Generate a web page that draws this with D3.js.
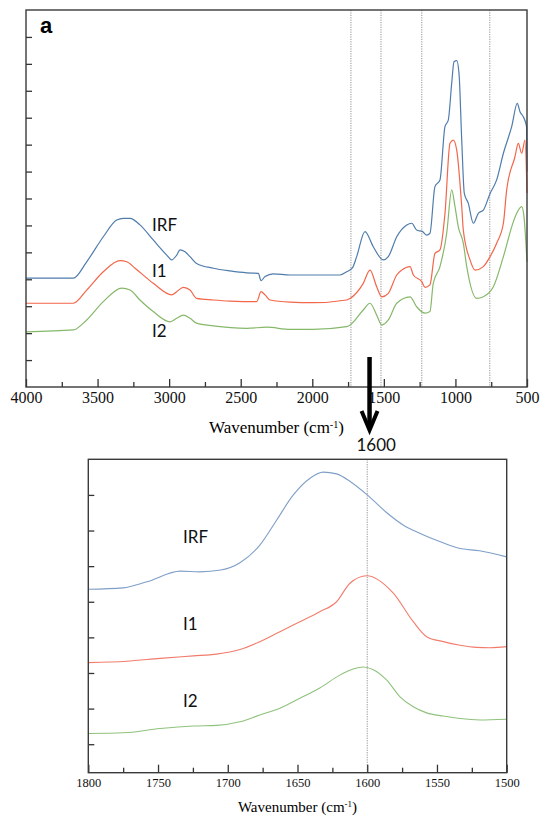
<!DOCTYPE html>
<html>
<head>
  <meta charset="utf-8">
  <script src="https://d3js.org/d3.v7.min.js"></script>
  <style>
  body { margin: 0; background: #fff; }
  .frame { fill: none; stroke: #3a3a3a; stroke-width: 1.4; }
  .tick line { stroke: #333; stroke-width: 1.3; }
  .tick text { font-family: "Liberation Serif", serif; fill: #111; }
  .mark { stroke: #777; stroke-width: 0.8; stroke-dasharray: 1.2,1.2; }
  .lbl { font-family: Lato, "Open Sans", sans-serif; fill: #111; }
  </style>
</head>
<body>
<script>
// spectra: [wavenumber, absorbance offset units]
var topIRF = [[4000,4.04],[3670,4.04],[3576,4.65],[3460,5.58],[3366,6.2],[3320,6.26],[3273,6.26],[3204,6.02],[3111,5.46],[3017,4.9],[2982,4.72],[2947,4.9],[2924,5.09],[2889,5.02],[2854,4.84],[2808,4.59],[2691,4.41],[2575,4.31],[2458,4.24],[2377,4.22],[2358,3.95],[2330,4.1],[2272,4.2],[2156,4.16],[2039,4.16],[1946,4.16],[1806,4.16],[1760,4.28],[1720,4.42],[1690,4.84],[1632,5.77],[1574,5.21],[1504,4.72],[1469,4.84],[1410,5.58],[1340,6.02],[1305,6.08],[1271,5.83],[1229,5.77],[1201,5.64],[1178,5.71],[1143,7.44],[1108,7.69],[1073,9.67],[1050,9.91],[1026,11.28],[1010,12.08],[991,12.12],[975,11.65],[956,9.17],[938,7.19],[910,6.82],[875,6.08],[840,6.45],[805,6.57],[758,7.19],[712,7.69],[665,8.68],[607,9.67],[568,10.53],[549,10.22],[526,10.04],[503,9.67],[500,8.0]];
var topI1 = [[4000,3.11],[3670,3.11],[3576,3.6],[3460,4.28],[3343,4.69],[3296,4.65],[3238,4.41],[3111,3.85],[2982,3.42],[2947,3.54],[2901,3.7],[2854,3.6],[2808,3.29],[2691,3.23],[2575,3.19],[2388,3.17],[2358,3.54],[2330,3.42],[2295,3.23],[2156,3.15],[1993,3.13],[1760,3.23],[1736,3.29],[1644,3.85],[1597,4.34],[1550,3.72],[1515,3.35],[1469,3.48],[1410,4.16],[1375,4.34],[1317,4.47],[1294,4.16],[1235,3.91],[1212,3.7],[1178,3.79],[1143,4.96],[1108,5.09],[1073,6.45],[1038,9.05],[1015,9.17],[991,8.8],[956,6.7],[945,5.83],[898,4.72],[863,4.34],[805,4.47],[758,4.84],[712,5.34],[665,6.08],[642,7.32],[584,8.55],[561,9.05],[537,8.68],[514,9.17],[500,7.2]];
var topI2 = [[4000,2.05],[3670,2.12],[3576,2.49],[3460,3.17],[3331,3.67],[3273,3.6],[3204,3.23],[3111,2.8],[2994,2.42],[2947,2.55],[2901,2.67],[2854,2.55],[2808,2.37],[2691,2.27],[2458,2.18],[2318,2.22],[2156,2.14],[1993,2.14],[1760,2.24],[1736,2.3],[1644,2.86],[1597,3.11],[1550,2.67],[1515,2.3],[1469,2.49],[1410,3.11],[1317,3.35],[1271,2.98],[1212,2.74],[1178,2.8],[1155,3.85],[1108,4.47],[1061,5.71],[1026,7.32],[1003,6.7],[980,5.95],[945,5.34],[921,4.47],[851,3.29],[805,3.35],[735,3.72],[665,4.84],[595,6.14],[572,6.45],[537,6.7],[521,6.32],[500,4.65]];

var zoomIRF = [[1800,5.35],[1775,5.39],[1758,5.56],[1734,5.86],[1720,5.84],[1705,5.89],[1691,6.1],[1677,6.59],[1665,7.29],[1653,8.0],[1641,8.47],[1631.5,8.64],[1622,8.59],[1612,8.37],[1600,8.0],[1586,7.5],[1574,7.15],[1562,6.92],[1548,6.69],[1534,6.5],[1519.5,6.43],[1500,6.26]];
var zoomI1 = [[1800,3.29],[1772.5,3.33],[1748.6,3.41],[1724.7,3.48],[1708,3.53],[1691.3,3.66],[1677,3.88],[1662.6,4.16],[1648.3,4.44],[1634,4.72],[1622,5.0],[1612.4,5.52],[1600.4,5.73],[1581.3,5.24],[1567,4.44],[1557.4,4.02],[1545.5,3.88],[1533.5,3.78],[1521.5,3.72],[1512,3.71],[1500,3.74]];
var zoomI2 = [[1800,1.3],[1775,1.32],[1748.6,1.44],[1724.7,1.51],[1708,1.53],[1691.3,1.63],[1677,1.82],[1662.6,2.01],[1648.3,2.29],[1634,2.58],[1619.7,2.94],[1610,3.11],[1603,3.17],[1596,3.1],[1586,2.8],[1576.5,2.33],[1567,2.05],[1557.4,1.88],[1545.5,1.79],[1533.5,1.72],[1519.5,1.68],[1500,1.7]];

var seriesNames = ["IRF", "I1", "I2"];
var topColors = ["#4f7cac", "#f2664a", "#86b86a"];
var zoomColors = ["#7f9fc8", "#f27c6c", "#8fc27c"];
var topLabelPos = [5.8, 4.07, 1.87];   // y (data) of label baselines
var zoomLabelPos = [6.66, 4.2, 2.05];

var topMajor = [4000,3500,3000,2500,2000,1500,1000,500];
var topMinor = [3750,3250,2750,2250,1750,1250,750];
var topYTicks = [1,2,3,4,5,6,7,8,9,10,11,12,13];
var topMarks = [1730, 1520, 1235, 760];
var zoomMajor = [1800,1750,1700,1650,1600,1550,1500];
var zoomMinor = [1775,1725,1675,1625,1575,1525];
var zoomYTicks = [1,2,3,4,5,6,7,8];
var zoomMarks = [1600];

var svg = d3.select("body").append("svg")
  .attr("width", 541).attr("height", 818);

// ---- top panel
var x0 = d3.scaleLinear().domain([4000, 500]).range([26, 527]);
var y0 = d3.scaleLinear().domain([0, 14]).range([387, 10]);
// ---- zoomed panel
var x1 = d3.scaleLinear().domain([1800, 1500]).range([88.3, 506.7]);
var y1 = d3.scaleLinear().domain([0.2, 9]).range([772.7, 459.3]);

function panel(x, y, opt) {
  var g = svg.append("g");
  var bottom = y.range()[0], top = y.range()[1];

  g.selectAll(".mark").data(opt.marks).enter().append("line")
    .attr("class", "mark")
    .attr("x1", function(d) { return x(d); }).attr("x2", function(d) { return x(d); })
    .attr("y1", top).attr("y2", bottom);

  var line = d3.line()
    .x(function(d) { return x(d[0]); })
    .y(function(d) { return y(d[1]); })
    .curve(d3.curveMonotoneX);

  opt.series.forEach(function(s, i) {
    g.append("path").datum(s)
      .attr("fill", "none")
      .attr("stroke", opt.colors[i])
      .attr("stroke-width", opt.lw)
      .attr("d", line);
  });

  var ax = g.append("g").attr("transform", "translate(0," + bottom + ")")
    .call(d3.axisBottom(x).tickValues(opt.major).tickSize(-opt.major_len).tickPadding(opt.pad).tickFormat(d3.format("d")));
  ax.selectAll("text").style("font-size", opt.fs + "px");
  ax.select(".domain").remove();

  var axm = g.append("g").attr("transform", "translate(0," + bottom + ")")
    .call(d3.axisBottom(x).tickValues(opt.minor).tickSize(-opt.minor_len).tickFormat(""));
  axm.select(".domain").remove();

  var ay = g.append("g").attr("transform", "translate(" + x.range()[0] + ",0)")
    .call(d3.axisLeft(y).tickValues(opt.yticks).tickSize(-6).tickFormat(""));
  ay.select(".domain").remove();

  g.append("rect").attr("class", "frame")
    .attr("x", x.range()[0]).attr("y", top)
    .attr("width", x.range()[1] - x.range()[0]).attr("height", bottom - top);

  seriesNames.forEach(function(n, i) {
    g.append("text").attr("class", "lbl")
      .attr("x", opt.labelX).attr("y", y(opt.labelY[i]))
      .style("font-size", "17px")
      .text(n);
  });

  var t = g.append("text")
    .attr("x", (x.range()[0] + x.range()[1]) / 2)
    .attr("y", opt.titleY)
    .attr("text-anchor", "middle")
    .style("font-family", "'Liberation Serif', serif")
    .style("font-size", opt.tfs + "px")
    .text("Wavenumber (cm");
  t.append("tspan").attr("baseline-shift", "super").style("font-size", (opt.tfs * 0.6) + "px").text("-1");
  t.append("tspan").text(")");
  return g;
}

panel(x0, y0, {
  series: [topIRF, topI1, topI2], colors: topColors, lw: 1.2,
  marks: topMarks, major: topMajor, minor: topMinor, yticks: topYTicks,
  major_len: 8, minor_len: 5, pad: 5, fs: 16,
  labelX: 152, labelY: topLabelPos, titleY: 433, tfs: 17
});

panel(x1, y1, {
  series: [zoomIRF, zoomI1, zoomI2], colors: zoomColors, lw: 1.1,
  marks: zoomMarks, major: zoomMajor, minor: zoomMinor, yticks: zoomYTicks,
  major_len: 8, minor_len: 5, pad: 5, fs: 12.5,
  labelX: 183, labelY: zoomLabelPos, titleY: 812, tfs: 15
});

// panel letter
svg.append("text").attr("x", 40).attr("y", 33)
  .style("font-family", "'Liberation Sans', Arial, sans-serif")
  .style("font-weight", "bold").style("font-size", "22px")
  .text("a");

// arrow from the top spectrum down to the zoom
var ax0 = x0(1600);
svg.append("line").attr("x1", ax0).attr("x2", ax0).attr("y1", 357).attr("y2", 428)
  .attr("stroke", "#000").attr("stroke-width", 4.5);
svg.append("path")
  .attr("d", "M" + (ax0 - 8) + ",411 L" + ax0 + ",430 L" + (ax0 + 8) + ",411")
  .attr("fill", "none").attr("stroke", "#000").attr("stroke-width", 4);

svg.append("text").attr("class", "lbl")
  .attr("x", x1(1600) + 9).attr("y", 451)
  .attr("text-anchor", "middle")
  .style("font-size", "17px")
  .text("1600");
</script>
</body>
</html>
